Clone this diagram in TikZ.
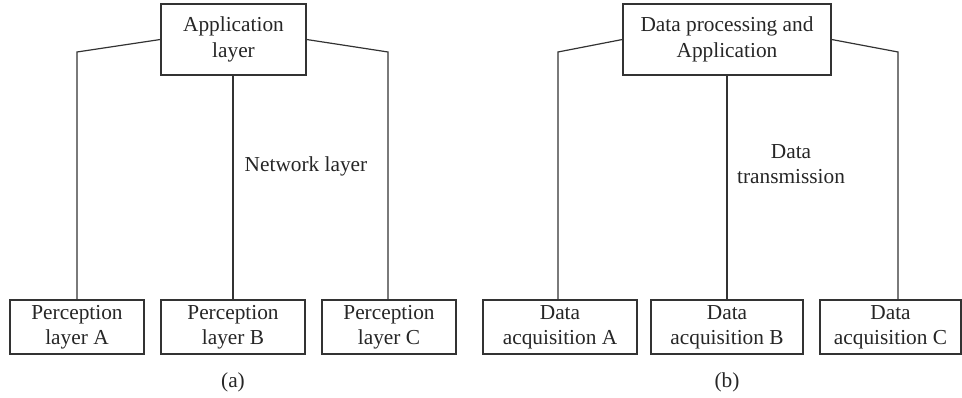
\documentclass[tikz,border=0pt]{standalone}
\usepackage{fontspec}
\setmainfont{Liberation Serif}
\begin{document}
\begin{tikzpicture}[x=0.75pt,y=-0.75pt,
  line width=0.9pt,
  every node/.style={font=\fontsize{16}{19}\selectfont, text=black!85, align=center, inner sep=0pt},
  box/.style={draw=black!80, rectangle, line width=0.9pt},
  conn/.style={draw=black!80, line width=0.9pt}]
\useasboundingbox (0,0) rectangle (962,398);
% ---- panel (a)
\node[box, minimum width=145*0.75pt, minimum height=71*0.75pt] (atop) at (233.5,39.5) {Application\\layer};
\node[box, minimum width=134*0.75pt, minimum height=54*0.75pt] (aA) at (77,327) {Perception\\layer A};
\node[box, minimum width=144*0.75pt, minimum height=54*0.75pt] (aB) at (233,327) {Perception\\layer B};
\node[box, minimum width=134*0.75pt, minimum height=54*0.75pt] (aC) at (389,327) {Perception\\layer C};
\coordinate (al) at (77,52);
\coordinate (ar) at (388,52);
\draw[conn] (atop.west) -- (al) -- (al |- aA.north);
\draw[conn] (atop.east) -- (ar) -- (ar |- aC.north);
\draw[conn] (atop.south -| aB.north) -- (aB.north);
\node (anet) at (306,166) {Network layer};
\node (acap) at (233,382) {(a)};
% ---- panel (b)
\node[box, minimum width=208*0.75pt, minimum height=71*0.75pt] (btop) at (727,39.5) {Data processing and\\Application};
\node[box, minimum width=154*0.75pt, minimum height=54*0.75pt] (bA) at (560,327) {Data\\acquisition A};
\node[box, minimum width=152*0.75pt, minimum height=54*0.75pt] (bB) at (727,327) {Data\\acquisition B};
\node[box, minimum width=141*0.75pt, minimum height=54*0.75pt] (bC) at (890.5,327) {Data\\acquisition C};
\coordinate (bl) at (558,52);
\coordinate (br) at (898,52);
\draw[conn] (btop.west) -- (bl) -- (bl |- bA.north);
\draw[conn] (btop.east) -- (br) -- (br |- bC.north);
\draw[conn] (btop.south) -- (bB.north);
\node (bnet) at (791,164) {Data\\transmission};
\node (bcap) at (727,382) {(b)};
\end{tikzpicture}
\end{document}
